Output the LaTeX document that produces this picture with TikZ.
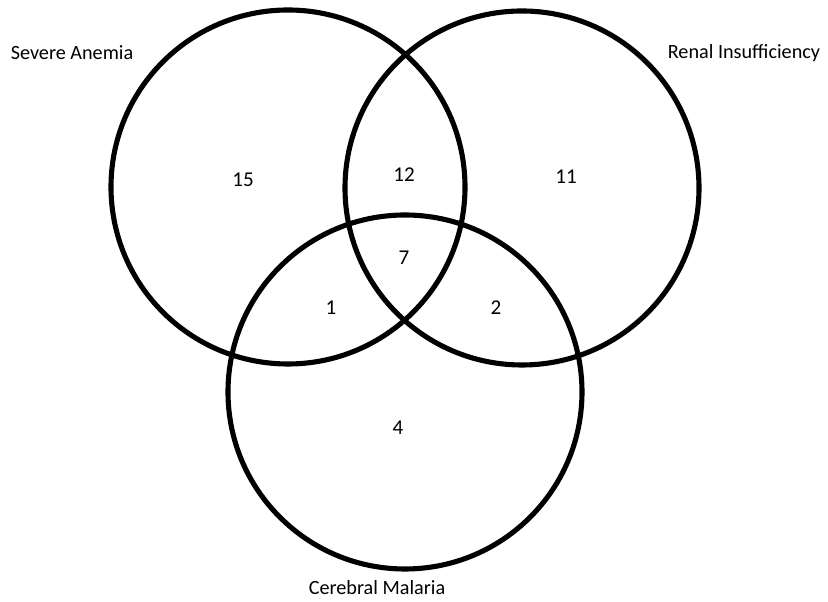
\documentclass[tikz,border=0pt]{standalone}
\usepackage{fontspec}
\setmainfont{Carlito}
\usepackage{tikz}
\usetikzlibrary{positioning}

\tikzset{
    setcircle/.style={circle, draw=black, line width=2.9pt, minimum size=7.08cm, inner sep=0pt, outer sep=0pt},
    setname/.style={font=\fontsize{11.5}{13}\selectfont},
    count/.style={font=\fontsize{12}{14}\selectfont}
}

\begin{document}
\begin{tikzpicture}[scale=1, transform shape]
    \useasboundingbox (0,0) rectangle (16.56,12.04);
    % the three sets
    \node [setcircle] (anemia) at (5.76,8.30) {};
    \node [setcircle] (renal) at (10.44,8.28) {};
    \node [setcircle] (malaria) at (8.10,4.20) {};
    % set names
    \node [setname] (anemiaName) at (1.44,10.98) {Severe Anemia};
    \node [setname] (renalName) at (14.88,10.98) {Renal Insufficiency};
    \node [setname] (malariaName) at (7.54,0.28) {Cerebral Malaria};
    % counts
    \node [count] (onlyA) at (4.86,8.44) {15};
    \node [count] (AR) at (8.08,8.54) {12};
    \node [count] (onlyR) at (11.32,8.50) {11};
    \node [count] (ARM) at (8.08,6.88) {7};
    \node [count] (AM) at (6.62,5.88) {1};
    \node [count] (RM) at (9.92,5.88) {2};
    \node [count] (onlyM) at (7.96,3.48) {4};
\end{tikzpicture}
\end{document}
